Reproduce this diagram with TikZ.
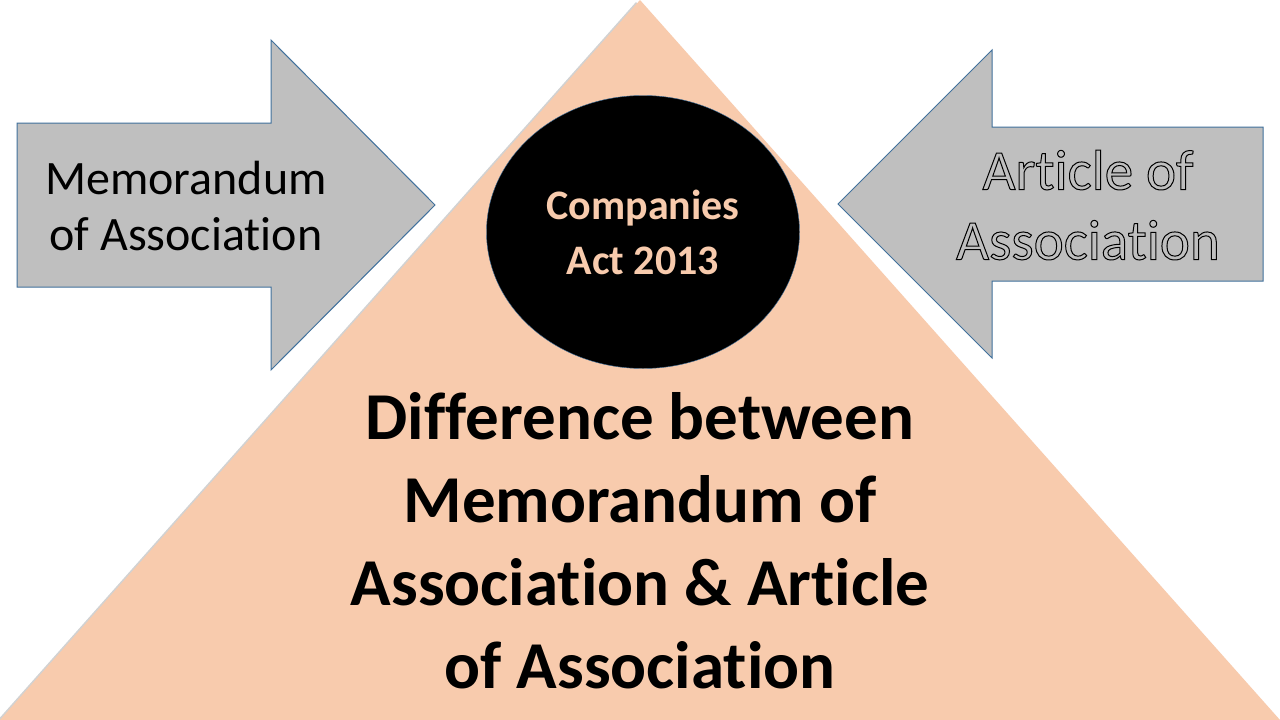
\documentclass[tikz,border=0pt]{standalone}
\usepackage{fontspec}
\setmainfont{Carlito}[Ligatures=NoCommon]
\usetikzlibrary{shapes.geometric,shadows}
\definecolor{peach}{HTML}{F8CBAD}
\definecolor{arrowgray}{HTML}{BFBFBF}
\definecolor{arrowline}{HTML}{41719C}
\newcommand\outlined[1]{\special{pdf:literal direct 1 w 1 Tr}#1\special{pdf:literal direct 0 Tr}}
\begin{document}
\begin{tikzpicture}[x=1pt,y=-1pt,
    arrowbox/.style={fill=arrowgray,draw=arrowline,line width=1pt},
    label/.style={align=center,text=black}]
  \useasboundingbox[fill=white] (0,0) rectangle (1280,720);
  \fill[peach,drop shadow={shadow xshift=-4pt,shadow yshift=-2pt,opacity=0.35}]
    (640,0) -- (0,720) -- (1280,720) -- cycle;
  \draw[arrowbox] (17,123) -- (271,123) -- (271,40) -- (435,205)
    -- (271,370) -- (271,287) -- (17,287) -- cycle;
  \draw[arrowbox] (1263,127) -- (992,127) -- (992,50) -- (838,204)
    -- (992,358) -- (992,281) -- (1263,281) -- cycle;
  \node[label,font=\fontsize{48}{56}\selectfont] (memo) at (186,206)
    {Memorandum\\of Association};
  \node[label,font=\fontsize{57}{70}\selectfont] (article) at (1088,205)
    {\outlined{Article of\\Association}};
  \node[ellipse,fill=black,draw=arrowline,minimum width=313pt,minimum height=273pt,
    align=center,text=peach,font=\fontsize{42}{55}\selectfont\bfseries] (act) at (643,232)
    {Companies\\Act 2013};
  \node[label,font=\fontsize{67}{83}\selectfont\bfseries] (title) at (640,541)
    {Difference between\\Memorandum of\\Association \& Article\\of Association};
\end{tikzpicture}
\end{document}
